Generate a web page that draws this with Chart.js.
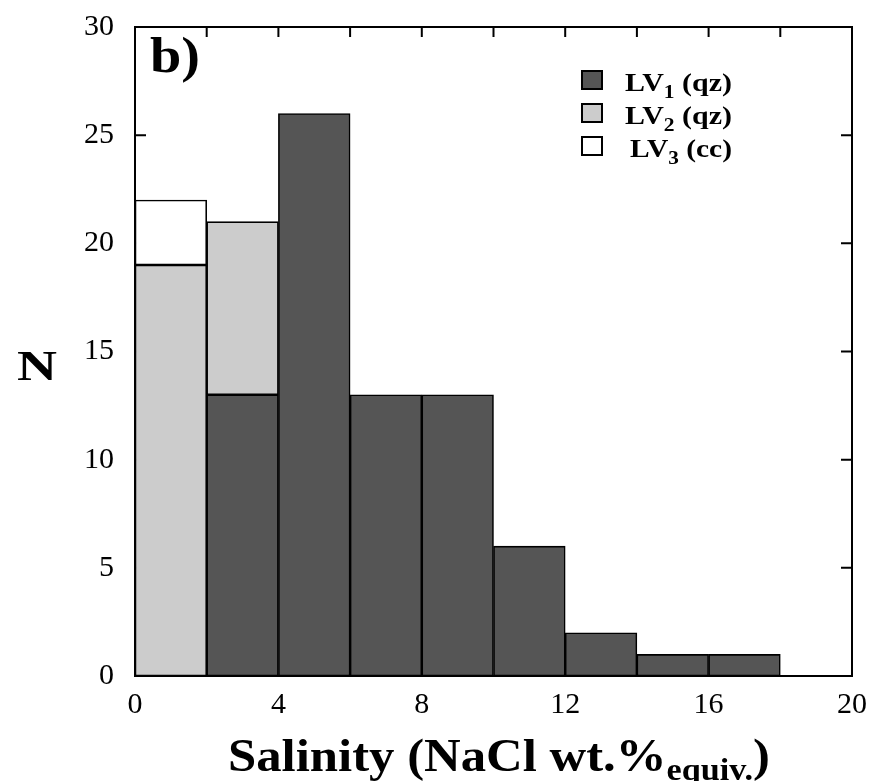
<!DOCTYPE html>
<html>
<head>
<meta charset="utf-8">
<script src="https://cdn.jsdelivr.net/npm/chart.js@4.4.0/dist/chart.umd.min.js"></script>
<style>
  html, body { margin: 0; padding: 0; background: #fff; }
  #wrap { width: 878px; height: 781px; position: relative; }
</style>
</head>
<body>
<div id="wrap"><canvas id="hist"></canvas></div>
<script>
// histogram bins (width 2)
const binCenters = [1, 3, 5, 7, 9, 11, 13, 15, 17, 19];
const lv1 = [0, 13, 26, 13, 13, 6, 2, 1, 1, 0];
const lv2 = [19, 8, 0, 0, 0, 0, 0, 0, 0, 0];
const lv3 = [3, 0, 0, 0, 0, 0, 0, 0, 0, 0];

const seriesBase = ['LV', 'LV', 'LV'];
const seriesSub = ['1', '2', '3'];
const seriesTag = [' (qz)', ' (qz)', ' (cc)'];
const seriesColors = ['#555555', '#cccccc', '#ffffff'];

const xTickStep = 4;
const yTickStep = 5;
const xMinorStep = 2;

const SERIF = '"Liberation Serif", "Times New Roman", serif';

function toPoints(arr) {
    return binCenters.map((x, i) => ({ x: x, y: arr[i] ? arr[i] : null }));
}

// draw text made of several pieces (normal + subscript), optionally fitted to a width
function drawPieces(ctx, pieces, x, y, align, fitWidth) {
    let total = 0;
    pieces.forEach(p => { ctx.font = p.font; p.w = ctx.measureText(p.text).width; total += p.w; });
    const sx = fitWidth ? fitWidth / total : 1;
    ctx.save();
    ctx.translate(x, y);
    ctx.scale(sx, 1);
    let cx = align === 'center' ? -total / 2 : 0;
    ctx.textAlign = 'left';
    ctx.textBaseline = 'alphabetic';
    ctx.fillStyle = '#000';
    pieces.forEach(p => {
        ctx.font = p.font;
        ctx.fillText(p.text, cx, p.dy || 0);
        cx += p.w;
    });
    ctx.restore();
}

const framePlugin = {
    id: 'frame',
    beforeDatasetsDraw(chart) {
        const { ctx, chartArea: a, scales } = chart;
        ctx.save();
        ctx.strokeStyle = '#000';
        ctx.lineWidth = 2;
        ctx.beginPath();
        for (let v = yTickStep; v < 30; v += yTickStep) {
            const py = scales.y.getPixelForValue(v);
            ctx.moveTo(a.left, py); ctx.lineTo(a.left + 11, py);
            ctx.moveTo(a.right, py); ctx.lineTo(a.right - 11, py);
        }
        for (let v = xMinorStep; v < 20; v += xMinorStep) {
            const px = scales.x.getPixelForValue(v);
            ctx.moveTo(px, a.top); ctx.lineTo(px, a.top + 10);
        }
        ctx.stroke();
        ctx.restore();
    },
    afterDatasetsDraw(chart) {
        const { ctx, chartArea: a } = chart;
        ctx.save();
        ctx.strokeStyle = '#000';
        ctx.lineWidth = 2;
        ctx.strokeRect(a.left, a.top, a.right - a.left, a.bottom - a.top);
        ctx.restore();
    },
    afterDraw(chart) {
        const { ctx } = chart;
        // panel letter
        drawPieces(ctx, [{ text: 'b)', font: 'bold 50px ' + SERIF }], 150, 72, 'left', 50);
        // y title
        drawPieces(ctx, [{ text: 'N', font: 'bold 42px ' + SERIF }], 37, 380, 'center', 40);
        // x title
        drawPieces(ctx, [
            { text: 'Salinity (NaCl wt.%', font: 'bold 46px ' + SERIF },
            { text: 'equiv.', font: 'bold 31px ' + SERIF, dy: 9 },
            { text: ')', font: 'bold 46px ' + SERIF }
        ], 499, 771, 'center', 542);
        // legend
        for (let i = 0; i < seriesBase.length; i++) {
            const top = 71 + i * 33;
            ctx.save();
            ctx.fillStyle = seriesColors[i];
            ctx.fillRect(582, top, 20, 18);
            ctx.strokeStyle = '#000';
            ctx.lineWidth = 2;
            ctx.strokeRect(582, top, 20, 18);
            ctx.restore();
            drawPieces(ctx, [
                { text: seriesBase[i], font: 'bold 25px ' + SERIF },
                { text: seriesSub[i], font: 'bold 18px ' + SERIF, dy: 7 },
                { text: seriesTag[i], font: 'bold 25px ' + SERIF }
            ], i === 2 ? 630 : 625, top + 20, 'left', i === 2 ? 102 : 107);
        }
    }
};

const ds = (label, arr, color) => ({
    label: label,
    data: toPoints(arr),
    backgroundColor: color,
    borderColor: '#000',
    borderWidth: 1.6,
    borderSkipped: false,
    barPercentage: 1,
    categoryPercentage: 1
});

new Chart(document.getElementById('hist'), {
    type: 'bar',
    data: {
        datasets: [
            ds('LV1 (qz)', lv1, seriesColors[0]),
            ds('LV2 (qz)', lv2, seriesColors[1]),
            ds('LV3 (cc)', lv3, seriesColors[2])
        ]
    },
    options: {
        responsive: true,
        maintainAspectRatio: false,
        animation: false,
        layout: { padding: { top: 27, right: 26, left: 0, bottom: 0 } },
        plugins: { legend: { display: false }, tooltip: { enabled: false } },
        scales: {
            x: {
                type: 'linear',
                min: 0, max: 20,
                offset: false,
                stacked: true,
                grid: { display: false, drawTicks: false },
                border: { display: false },
                ticks: { stepSize: xTickStep, color: '#000', padding: 11, font: { family: SERIF, size: 30 } },
                afterFit: s => { s.height = 105; s.paddingLeft = 0; s.paddingRight = 0; }
            },
            y: {
                min: 0, max: 30,
                stacked: true,
                grid: { display: false, drawTicks: false },
                border: { display: false },
                ticks: { stepSize: yTickStep, color: '#000', padding: 21, font: { family: SERIF, size: 30 } },
                afterFit: s => { s.width = 135; s.paddingTop = 0; s.paddingBottom = 0; }
            }
        }
    },
    plugins: [framePlugin]
});
</script>
</body>
</html>
